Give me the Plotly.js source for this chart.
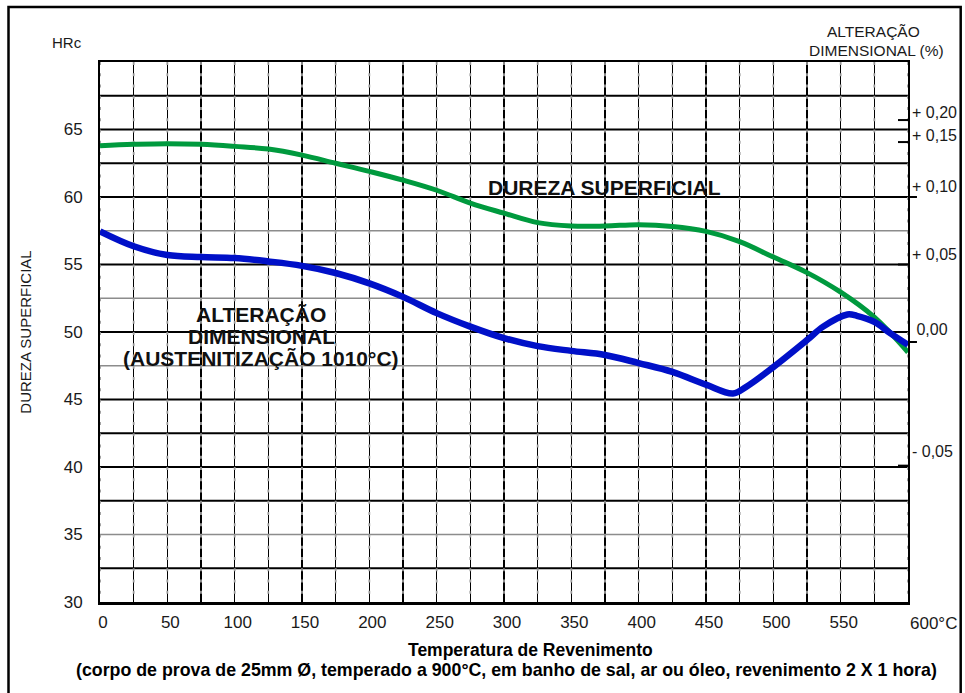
<!DOCTYPE html>
<html>
<head>
<meta charset="utf-8">
<script src="https://cdn.plot.ly/plotly-3.0.1.min.js"></script>
<style>
  html, body { margin: 0; padding: 0; background: #fff; }
  #chart { width: 965px; height: 693px; }
</style>
</head>
<body>
<div id="chart"></div>
<script>
// Surface hardness (HRc) against tempering temperature (°C)
const temperatura = [0, 25, 50, 75, 100, 125, 150, 175, 200, 225, 250, 275, 300,
                     325, 350, 375, 400, 425, 450, 475, 500, 525, 550, 575, 600];
const durezaHRc   = [63.8, 63.9, 63.95, 63.9, 63.75, 63.55, 63.1, 62.5, 61.9, 61.25, 60.5, 59.55, 58.8,
                     58.1, 57.85, 57.85, 57.95, 57.82, 57.45, 56.7, 55.55, 54.4, 52.95, 51.1, 48.5];

// Dimensional change curve, read on the shared HRc grid
const tempAlteracao = [0, 25, 50, 75, 100, 125, 150, 175, 200, 225, 250, 275, 300,
                       325, 350, 375, 400, 425, 450, 470, 480, 500, 525, 537, 555, 562, 575, 587, 600];
const alteracaoDim  = [57.45, 56.35, 55.7, 55.55, 55.48, 55.23, 54.9, 54.37, 53.6, 52.6, 51.4, 50.4, 49.55,
                       48.95, 48.6, 48.3, 47.7, 47.05, 46.1, 45.45, 45.95, 47.4, 49.4, 50.4, 51.3, 51.2, 50.75, 49.9, 49.05];

// Axis ticks
const xTickVals = [0, 25, 50, 75, 100, 125, 150, 175, 200, 225, 250, 275, 300,
                   325, 350, 375, 400, 425, 450, 475, 500, 525, 550, 575, 600];
const xTickText = ['0', '', '50', '', '100', '', '150', '', '200', '', '250', '', '300',
                   '', '350', '', '400', '', '450', '', '500', '', '550', '', ''];
const yTickVals = [30, 35, 40, 45, 50, 55, 60, 65];
const yTickText = ['30', '35', '40', '45', '50', '55', '60', '65'];

// Right-hand scale (dimensional change, %) on the HRc grid
const dimLabels   = ['+ 0,20', '+ 0,15', '+ 0,10', '+ 0,05', '\u00a00,00', '- 0,05'];
const dimLabelPos = [66.27, 64.54, 60.79, 55.73, 50.17, 41.16];
const dimTickPos  = [65.7, 64.07, 60.0, 55.0, 49.26, 40.1];

// Horizontal grid levels
const gridBlack = [32.5, 37.5, 40, 42.5, 45, 50, 55, 60, 62.5, 65, 67.5];
const gridGray  = [35, 47.5, 52.5, 57.5];

const FONT = '"Liberation Sans", Arial, sans-serif';
const TXT = '#1a1a1a';

const traces = [
  {
    x: temperatura, y: durezaHRc, type: 'scatter', mode: 'lines',
    line: { color: '#009a3e', width: 5, shape: 'spline', smoothing: 1.1 },
    hoverinfo: 'skip', showlegend: false
  },
  {
    x: tempAlteracao, y: alteracaoDim, type: 'scatter', mode: 'lines',
    line: { color: '#0010c8', width: 6.5, shape: 'spline', smoothing: 1.0 },
    hoverinfo: 'skip', showlegend: false
  }
];

const shapes = [];
gridGray.forEach(v => shapes.push({
  type: 'line', xref: 'x', yref: 'y', x0: 0, x1: 600, y0: v, y1: v,
  line: { color: '#8c8c8c', width: 1.5 }, layer: 'between'
}));
gridBlack.forEach(v => shapes.push({
  type: 'line', xref: 'x', yref: 'y', x0: 0, x1: 600, y0: v, y1: v,
  line: { color: '#000', width: 2 }, layer: 'between'
}));
// grey dotted texture along the vertical grid lines
xTickVals.forEach(v => shapes.push({
  type: 'line', xref: 'x', yref: 'y', x0: v, x1: v, y0: 70, y1: 30,
  line: { color: '#9a9a9a', width: 1.8, dash: '3px,8.25px' }, layer: 'between'
}));
// short tick marks of the right-hand scale; those on grid lines point outwards
const outward = [60.0, 49.26];
dimTickPos.forEach(v => {
  const out = outward.includes(v);
  shapes.push({
    type: 'line', xref: 'paper', yref: 'y',
    x0: out ? 1 : 0.9876, x1: out ? 1.0111 : 1.0, y0: v, y1: v,
    line: { color: '#000', width: 2 }
  });
});
// outer frame
shapes.push({
  type: 'rect', xref: 'paper', yref: 'paper',
  x0: -0.11324, x1: 1.06522, y0: -0.2, y1: 1.10185,
  line: { color: '#000', width: 2.5 }, fillcolor: 'rgba(0,0,0,0)', layer: 'below'
});

function label(text, xref, yref, x, y, size, color, xanchor) {
  return { text: text, xref: xref, yref: yref, x: x, y: y,
           xanchor: xanchor || 'center', yanchor: 'middle', showarrow: false,
           font: { family: FONT, size: size, color: color } };
}

const annotations = [
  label('HRc', 'paper', 'paper', -0.0409, 1.0352, 15, TXT),
  label('ALTERAÇÃO', 'paper', 'paper', 0.9567, 1.0556, 15.5, TXT),
  label('DIMENSIONAL (%)', 'paper', 'paper', 0.9604, 1.0222, 15.5, TXT),
  label('600°C', 'x', 'paper', 600, -0.0394, 17, TXT, 'left'),
  label('<b>DUREZA SUPERFICIAL</b>', 'x', 'y', 374.6, 60.74, 21, '#111'),
  label('<b>ALTERAÇÃO</b>', 'x', 'y', 119.6, 51.28, 21, '#111'),
  label('<b>DIMENSIONAL</b>', 'x', 'y', 119.6, 49.67, 21, '#111'),
  label('<b>(AUSTENITIZAÇÃO 1010°C)</b>', 'x', 'y', 119.6, 48.07, 21, '#111'),
  label('<b>Temperatura de Revenimento</b>', 'paper', 'paper', 0.5328, -0.0889, 17.5, '#000'),
  label('<b>(corpo de prova de 25mm Ø, temperado a 900°C, em banho de sal, ar ou óleo, revenimento 2 X 1 hora)</b>',
        'paper', 'paper', 0.5033, -0.1259, 17.8, '#000')
];

const layout = {
  width: 965, height: 693,
  margin: { l: 100, r: 57, t: 62, b: 91 },
  paper_bgcolor: '#fff', plot_bgcolor: '#fff',
  font: { family: FONT, size: 17, color: TXT },
  showlegend: false,
  xaxis: {
    range: [0, 600], tickmode: 'array', tickvals: xTickVals, ticktext: xTickText,
    showgrid: true, gridcolor: '#000', gridwidth: 1.6, zeroline: false,
    showline: true, linecolor: '#000', linewidth: 2.5, mirror: true,
    ticks: '', ticklabelstandoff: 3, ticklabelshift: 3,
    tickfont: { family: FONT, size: 17, color: TXT }, fixedrange: true
  },
  yaxis: {
    range: [30, 70], tickmode: 'array', tickvals: yTickVals, ticktext: yTickText,
    showgrid: false, zeroline: false,
    showline: true, linecolor: '#000', linewidth: 2, mirror: true,
    ticks: '', ticklabelstandoff: 12,
    tickfont: { family: FONT, size: 17, color: TXT },
    title: { text: 'DUREZA SUPERFICIAL', standoff: 28, font: { family: FONT, size: 15, color: TXT } },
    fixedrange: true
  },
  yaxis2: {
    overlaying: 'y', side: 'right', range: [30, 70],
    tickmode: 'array', tickvals: dimLabelPos, ticktext: dimLabels,
    showgrid: false, zeroline: false, showline: false, ticks: '', ticklabelstandoff: 3,
    tickfont: { family: FONT, size: 16, color: TXT }, fixedrange: true
  },
  shapes: shapes,
  annotations: annotations
};

// invisible trace so the right-hand axis is drawn
traces.push({ x: [0], y: [50], yaxis: 'y2', mode: 'markers', marker: { opacity: 0 },
              hoverinfo: 'skip', showlegend: false });

Plotly.newPlot('chart', traces, layout, { staticPlot: true, displayModeBar: false });
</script>
</body>
</html>
